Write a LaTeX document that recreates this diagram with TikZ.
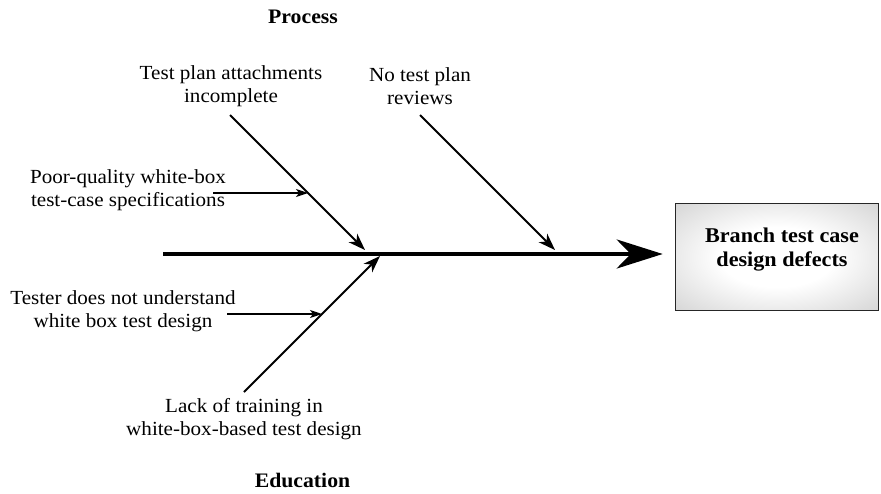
\documentclass[tikz,border=0pt]{standalone}
\usepackage{fontspec}
\setmainfont{Liberation Serif}[FakeStretch=1.055]
\usetikzlibrary{arrows.meta}
% soft grey glow for the effect box: white core fading to grey corners
\pgfdeclareradialshading{glow}{\pgfpoint{0bp}{0bp}}{color(0bp)=(white); color(14bp)=(white); color(38bp)=(black!18); color(50bp)=(black!31); color(72bp)=(black!46)}
\begin{document}
\begin{tikzpicture}[x=1pt,y=-1pt,
  lbl/.style={align=center,inner sep=0pt,font=\fontsize{20}{23}\selectfont},
  head/.style={align=center,inner sep=0pt,font=\fontsize{21}{24}\selectfont\bfseries},
  spine/.style={line width=4.3pt,-{Stealth[length=46pt,width=29pt,inset=14pt]}},
  bone/.style={line width=1.8pt,-{Stealth[length=17pt,width=12pt,inset=5pt]}},
  twig/.style={line width=1.3pt,-{Stealth[length=12pt,width=8pt,inset=3pt]}},
  effectbox/.style={draw=black!85,line width=1.6pt,shade,shading=glow,
    minimum width=203pt,minimum height=107pt,inner sep=0pt},
]
\useasboundingbox (0,0) rectangle (881,493);

% effect box
\node[effectbox] (box) at (777,257) {};
\node[head] (effect) at (782,250) {Branch test case\\design defects};

% category headings
\node[head,font=\fontsize{20.6}{24}\selectfont\bfseries] (process) at (303,16.5) {Process};
\node[head,font=\fontsize{20.6}{24}\selectfont\bfseries] (education) at (302.5,480) {Education};

% cause labels
\node[lbl] (c1) at (231,86.5) {Test plan attachments\\incomplete};
\node[lbl] (c2) at (420,86.5) {No test plan\\reviews};
\node[lbl] (c3) at (128,190.5) {Poor-quality white-box\\test-case specifications};
\node[lbl] (c4) at (123,311.5) {Tester does not understand\\white box test design};
\node[lbl] (c5) at (244,419) {Lack of training in\\white-box-based test design};

% end points of the bones
\coordinate (tail) at (163,254);
\coordinate (b1s) at (230,115);
\coordinate (b1e) at (365,250);
\coordinate (b2s) at (420,115);
\coordinate (b2e) at (555,250);
\coordinate (b3s) at (244,392);
\coordinate (b3e) at (380,256);
\coordinate (t1s) at (213,193);
\coordinate (t1e) at (308,193);
\coordinate (t2s) at (227,314);
\coordinate (t2e) at (322,314);

% spine
\draw[spine,shorten >=12pt] (tail) -- (tail -| box.west);

% main bones
\draw[bone] (b1s) -- (b1e);
\draw[bone] (b2s) -- (b2e);
\draw[bone] (b3s) -- (b3e);

% sub-causes
\draw[twig] (t1s) -- (t1e);
\draw[twig] (t2s) -- (t2e);
\end{tikzpicture}
\end{document}
